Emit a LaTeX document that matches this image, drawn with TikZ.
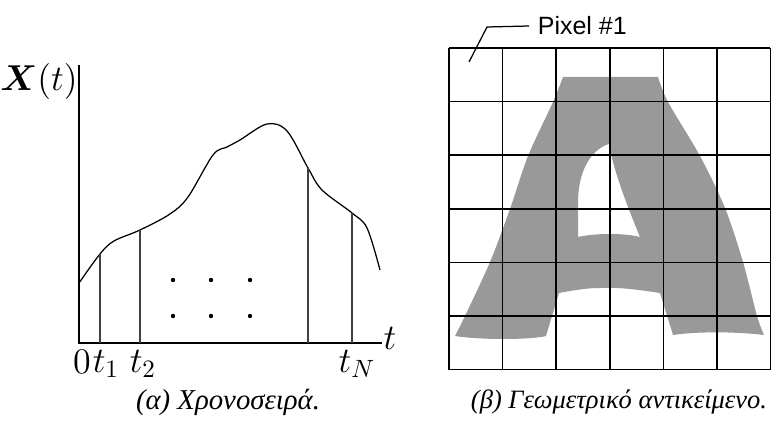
\documentclass[tikz,border=0pt]{standalone}
\usepackage{amsmath}
\usepackage{fontspec}
\newfontfamily\greekfont[Script=Greek]{Liberation Serif}
\newfontfamily\pixelfont{Liberation Sans}

\begin{document}
\begin{tikzpicture}[x=0.4pt,y=-0.4pt]
\useasboundingbox (0,0) rectangle (771,424);
% (a) time series
\coordinate (o) at (79,343);
\draw[line width=0.6pt] (79,65) -- (o) -- (382,343);
\draw[line width=0.5pt] plot[smooth,tension=0.55] coordinates {(79,283) (100,254) (114,241) (140,230) (170,214) (188,197) (213,155) (227,147) (240,140) (267,124) (287,131) (308,168) (322,190) (352,213) (367,228) (380,270)};
\coordinate (k1) at (100,254);
\coordinate (k2) at (140,230);
\coordinate (k3) at (308,168);
\coordinate (k4) at (352,213);
\foreach \k in {k1,k2,k3,k4}
  \draw[line width=0.5pt,black!75] (\k |- o) -- (\k);
\foreach \x in {173,211,250} {
  \fill (\x,280) circle (2.2);
  \fill (\x,316) circle (2.2);
}
\node (xlab) at (39,82) {\Large $\boldsymbol{X}(t)$};
\node (tlab) at (390,338) {\Large $t$};
\node[anchor=north,inner sep=1pt] (l0) at (82,347) {\Large $0$};
\node[anchor=north,inner sep=1pt] (l1) at (106,347) {\Large $t_1$};
\node[anchor=north,inner sep=1pt] (l2) at (143,347) {\Large $t_2$};
\node[anchor=north,inner sep=1pt] (lN) at (357,347) {\Large $t_N$};
\node[inner sep=1pt] (capa) at (228,402) {\greekfont\itshape\fontsize{11.5}{13}\selectfont (α) Χρονοσειρά.};
% (b) geometric object
\fill[black!40,even odd rule]
  (563,77) -- (658,77)
  -- plot[smooth,tension=0.5] coordinates {(658,77) (668,102) (700,156) (725,208) (743,262) (757,316) (764,335)}
  .. controls (740,332) and (700,331) .. (673,335)
  -- (660,293)
  .. controls (640,290) and (620,287) .. (600,288)
  .. controls (585,288) and (570,291) .. (559,293)
  -- (546,336)
  .. controls (530,340) and (480,340) .. (455,336)
  -- plot[smooth,tension=0.5] coordinates {(455,336) (465,316) (490,262) (510,209) (528,156) (553,102) (563,77)}
  -- cycle
  (609,144) .. controls (595,148) and (579,165) .. (578,200)
  -- (578,237)
  .. controls (595,233) and (625,233) .. (640,237)
  .. controls (630,213) and (613,170) .. (609,144) -- cycle;
\foreach \i in {0,...,6} {
  \draw[line width=0.6pt] ({449+53.6*\i},48) -- ({449+53.6*\i},369.6);
  \draw[line width=0.6pt] (449,{48+53.6*\i}) -- (770.4,{48+53.6*\i});
}
\coordinate (pin) at (469,62);
\coordinate (bend) at (487,27);
\node[anchor=west,font=\pixelfont] (pixlab) at (529,26) {Pixel \#1};
\draw[line width=0.5pt] (pin) -- (bend) -- (pixlab.west);
\node[inner sep=1pt] (capb) at (619,402) {\greekfont\itshape\fontsize{10.6}{13}\selectfont (β) Γεωμετρικό αντικείμενο.};
\end{tikzpicture}
\end{document}
